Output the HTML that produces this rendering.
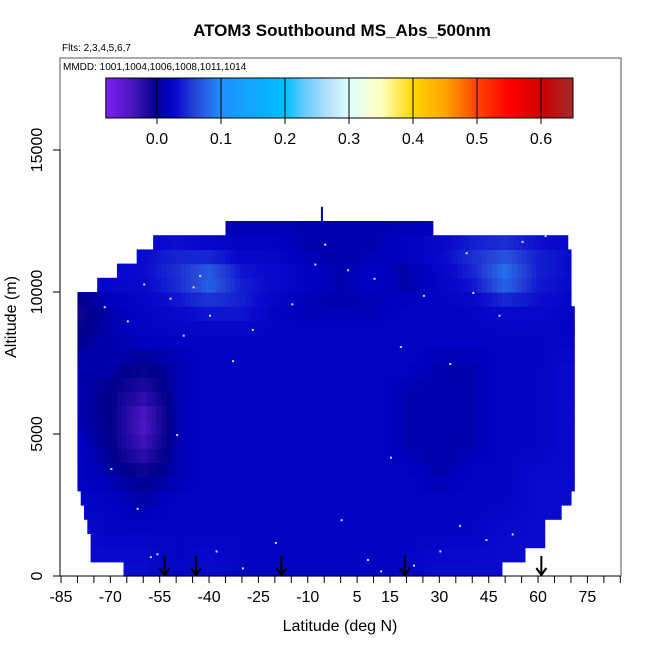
<!DOCTYPE html>
<html><head><meta charset="utf-8"><style>
body{margin:0;background:#fff}
svg text{font-family:"Liberation Sans",Arial,sans-serif}
</style></head><body>
<svg id="c" width="650" height="650" viewBox="0 0 650 650" xmlns="http://www.w3.org/2000/svg">
<defs><linearGradient id="cb" x1="0" x2="1" y1="0" y2="0"></linearGradient></defs>
<text x="342" y="36" text-anchor="middle" font-size="17" font-weight="bold">ATOM3 Southbound MS_Abs_500nm</text>
<text x="62" y="51" font-size="10">Flts: 2,3,4,5,6,7</text>
<g id="heat"></g>
<g id="dots"></g>
<rect x="60" y="58" width="561" height="518" fill="none" stroke="#555" stroke-width="1"/>
<text x="63" y="70" font-size="10">MMDD: 1001,1004,1006,1008,1011,1014</text>
<g id="cbar"></g>
<g id="axes"></g>
<g id="arrows"></g>
<text x="340" y="631" text-anchor="middle" font-size="16">Latitude (deg N)</text>
<text transform="translate(16,317) rotate(-90)" text-anchor="middle" font-size="16">Altitude (m)</text>
</svg>
<script>
const xTicks=[-85,-70,-55,-40,-25,-10,5,15,30,45,60,75];
const yTicks=[0,5000,10000,15000];
const cbTicks=[0.0,0.1,0.2,0.3,0.4,0.5,0.6];
const arrowLats=[-53.5,-44,-18,19.5,61];
const coarseLats=[-80,-70,-60,-50,-40,-30,-20,-10,0,10,20,30,40,50,60,70];
const coarseAlts=[500,1500,2500,3500,4500,5500,6500,7500,8500,9500,10500,11500,12500];
const vals=[
[0.03,0.03,0.03,0.02,0.03,0.02,0.02,0.02,0.02,0.02,0.02,0.03,0.03,0.03,0.03,0.03],
[0.03,0.02,0.02,0.02,0.02,0.02,0.02,0.02,0.02,0.02,0.02,0.02,0.02,0.03,0.03,0.03],
[0.02,0.02,0.01,0.02,0.02,0.02,0.02,0.02,0.02,0.02,0.02,0.02,0.02,0.02,0.03,0.03],
[0.02,0.01,0.0,0.01,0.02,0.02,0.02,0.02,0.02,0.02,0.02,0.01,0.02,0.02,0.03,0.03],
[0.02,0.0,-0.03,0.01,0.02,0.02,0.02,0.02,0.02,0.02,0.01,0.01,0.01,0.02,0.02,0.03],
[0.01,0.0,-0.045,0.01,0.02,0.02,0.02,0.02,0.02,0.02,0.01,0.01,0.01,0.02,0.02,0.03],
[0.01,0.0,-0.02,0.01,0.02,0.02,0.02,0.02,0.02,0.02,0.01,0.01,0.01,0.02,0.02,0.03],
[0.01,0.01,0.0,0.01,0.02,0.02,0.02,0.02,0.02,0.02,0.02,0.01,0.01,0.02,0.02,0.03],
[0.0,0.01,0.02,0.02,0.02,0.02,0.02,0.02,0.02,0.02,0.02,0.02,0.02,0.02,0.02,0.02],
[-0.01,0.01,0.02,0.03,0.04,0.04,0.02,0.01,0.01,0.01,0.02,0.02,0.02,0.03,0.03,0.02],
[0.02,0.03,0.03,0.05,0.085,0.04,0.03,0.02,0.01,0.02,0.005,0.02,0.04,0.09,0.04,0.03],
[0.02,0.02,0.03,0.04,0.03,0.02,0.02,0.01,0.01,0.01,0.02,0.03,0.05,0.06,0.04,0.03],
[0.01,0.01,0.01,0.01,0.01,0.01,0.01,0.01,0.01,0.01,0.01,0.01,0.01,0.01,0.01,0.01]];
const rowAlt=[0,500,1000,1500,2000,2500,3000,3500,4000,4500,5000,5500,6000,6500,7000,7500,8000,8500,9000,9500,10000,10500,11000,11500,12000];
const rowLatMin=[-66,-76,-76,-77,-78,-79,-80,-80,-80,-80,-80,-80,-80,-80,-80,-80,-80,-80,-80,-80,-74,-68,-62,-57,-35];
const rowLatMax=[49,56,62,62,67,70,71,71,71,71,71,71,71,71,71,71,71,71,71,70,70,70,70,69,28];
const dotLats=[-72,-65,-60,-52,-48,-45,-40,-33,-27,-15,-5,2,10,18,25,33,40,48,55,62,-70,-58,-38,-20,0,12,30,44,-62,-50,15,36,-30,8,52,-8,22,-56,-43,38];
const dotAlts=[9500,9000,10300,9800,8500,10200,9200,7600,8700,9600,11700,10800,10500,8100,9900,7500,10000,9200,11800,12000,3800,700,900,1200,2000,200,900,1300,2400,5000,4200,1800,300,600,1500,11000,400,800,10600,11400];
const W=650;
const X0=61,XS=3.29,Y0=576,YS=0.02840;
const xs=l=>X0+(l+85)*XS, ys=a=>Y0-a*YS;
const cbX=l=>157+l*640;
const stops=[[-0.08,'#7b1ff2'],[-0.04,'#4b16c0'],[0,'#00008b'],[0.015,'#0000c0'],[0.03,'#0a0acd'],[0.06,'#2646d8'],[0.1,'#1e90ff'],[0.2,'#00bfff'],[0.23,'#66ccff'],[0.27,'#b8e2fb'],[0.3,'#e0ffff'],[0.35,'#ffffc0'],[0.4,'#ffd700'],[0.45,'#ffa500'],[0.5,'#ff4500'],[0.55,'#ff0000'],[0.6,'#cd0000'],[0.65,'#a52a2a']];
function hex(c){return [1,3,5].map(i=>parseInt(c.substr(i,2),16));}
function col(v){if(v<=stops[0][0])return stops[0][1];for(let i=1;i<stops.length;i++){if(v<=stops[i][0]){const a=stops[i-1],b=stops[i],t=(v-a[0])/(b[0]-a[0]);const p=hex(a[1]),q=hex(b[1]);return 'rgb('+p.map((x,k)=>Math.round(x+(q[k]-x)*t)).join(',')+')';}}return stops[stops.length-1][1];}
function interp(lat,alt){
 let fi=(lat-coarseLats[0])/10, fj=(alt-coarseAlts[0])/1000;
 fi=Math.max(0,Math.min(coarseLats.length-1.001,fi));fj=Math.max(0,Math.min(coarseAlts.length-1.001,fj));
 const i=Math.floor(fi),j=Math.floor(fj),ti=fi-i,tj=fj-j;
 const a=vals[j][i]*(1-ti)+vals[j][i+1]*ti,b=vals[j+1][i]*(1-ti)+vals[j+1][i+1]*ti;
 return a*(1-tj)+b*tj;}
const NS='http://www.w3.org/2000/svg';
function mk(t,at,p){const e=document.createElementNS(NS,t);for(const k in at)e.setAttribute(k,at[k]);p.appendChild(e);return e;}
const heat=document.getElementById('heat');
for(let r=0;r<rowAlt.length;r++){
 for(let lat=rowLatMin[r];lat<rowLatMax[r];lat+=1.5){
  const l2=Math.min(lat+1.5,rowLatMax[r]);
  const e=mk('rect',{x:xs(lat).toFixed(2),y:ys(rowAlt[r]+500).toFixed(2),width:(xs(l2)-xs(lat)+0.6).toFixed(2),height:(500*YS+0.6).toFixed(2),fill:col(interp(lat+0.75,rowAlt[r]+250))},heat);
  
  
 }}
const sp=mk('rect',{x:xs(-6),y:ys(13000),width:2,height:500*YS,fill:'#0000b0'},heat);


const dots=document.getElementById('dots');
for(let i=0;i<dotLats.length;i++){const d=mk('rect',{x:xs(dotLats[i]),y:ys(dotAlts[i]),width:2,height:2,fill:'#d8d8ff'},dots);
 
 }
// colorbar
const g=document.getElementById('cb');
stops.forEach(s=>{mk('stop',{offset:((s[0]+0.08)/0.73).toFixed(4),'stop-color':s[1]},g);});
const cbar=document.getElementById('cbar');
const cr=mk('rect',{x:cbX(-0.08),y:78,width:cbX(0.65)-cbX(-0.08),height:40,fill:'url(#cb)',stroke:'#000','stroke-width':1},cbar);


cbTicks.forEach(v=>{mk('line',{x1:cbX(v),x2:cbX(v),y1:78,y2:124,stroke:'#000','stroke-width':1},cbar);
 const t=mk('text',{x:cbX(v),y:144,'text-anchor':'middle','font-size':16},cbar);t.textContent=v.toFixed(1);
 
 });
// axes
const ax=document.getElementById('axes');
mk('line',{x1:xs(-85),x2:xs(85),y1:Y0,y2:Y0,stroke:'#000'},ax);
for(let l=-85;l<=85;l+=5)mk('line',{x1:xs(l),x2:xs(l),y1:Y0,y2:Y0+7,stroke:'#000'},ax);
xTicks.forEach(l=>{const t=mk('text',{x:xs(l),y:602,'text-anchor':'middle','font-size':16},ax);t.textContent=l;
 
 });
mk('line',{x1:60,x2:60,y1:ys(0),y2:ys(15000),stroke:'#000'},ax);
yTicks.forEach(a=>{mk('line',{x1:53,x2:60,y1:ys(a),y2:ys(a),stroke:'#000'},ax);
 const t=mk('text',{transform:'translate(42,'+ys(a)+') rotate(-90)','text-anchor':'middle','font-size':16},ax);t.textContent=a;
 
 });
const ar=document.getElementById('arrows');
arrowLats.forEach(l=>{const x=xs(l);const p=mk('path',{d:`M${x} 556 V575 M${x-5} 568 L${x} 575 L${x+5} 568`,stroke:'#000','stroke-width':2,fill:'none'},ar);
 
 });
</script>
</body></html>
